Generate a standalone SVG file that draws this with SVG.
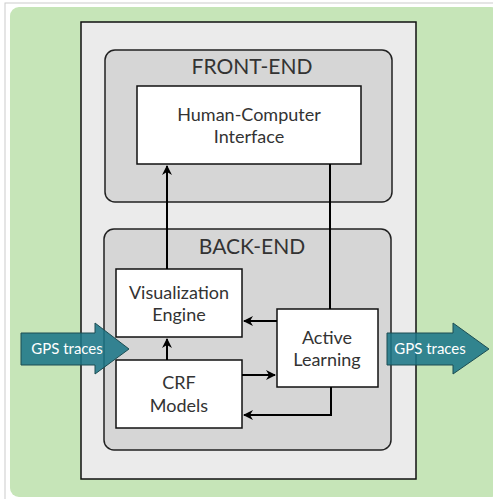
<svg xmlns="http://www.w3.org/2000/svg" width="493" height="499" viewBox="0 0 493 499">
<style>
.lbl{font-family:Lato,"Open Sans","Liberation Sans",sans-serif;fill:#333;text-anchor:middle}
.box{fill:#fff;stroke:#111;stroke-width:1.5}
.grp{fill:#d6d6d6;stroke:#222;stroke-width:1.5}
.con{fill:none;stroke:#000;stroke-width:2}
.gps{fill:#1c7687;fill-opacity:0.88;stroke:#1d4d52;stroke-width:1}
.gpst{font-family:Lato,"Open Sans","Liberation Sans",sans-serif;fill:#fff;font-size:15px;text-anchor:middle}
</style>
<defs>
<marker id="ah" viewBox="0 0 10 10" refX="9" refY="5" markerWidth="5" markerHeight="5" markerUnits="strokeWidth" orient="auto">
<path d="M0,0 L10,5 L0,10 L3,5 z" fill="#000"/>
</marker>
</defs>
<rect x="0" y="0" width="493" height="499" fill="#fff"/>
<rect x="5" y="3" width="495" height="500" fill="none" stroke="#ccc" stroke-width="1"/>
<rect x="10" y="7" width="490" height="490" rx="9" fill="#c6e5b8"/>
<g id="outer"><rect x="81" y="22" width="335" height="457" fill="#ebebeb" stroke="#111" stroke-width="1.5"/></g>
<g id="frontend">
<rect class="grp" x="105" y="50" width="287" height="152" rx="10"/>
<text class="lbl" x="252" y="74" font-size="21">FRONT-END</text>
</g>
<g id="backend">
<rect class="grp" x="104" y="229" width="287" height="221" rx="10"/>
<text class="lbl" x="252" y="254" font-size="21">BACK-END</text>
</g>
<g id="hci">
<rect class="box" x="137" y="86" width="224" height="78"/>
<text class="lbl" x="249" y="121" font-size="18">Human-Computer</text>
<text class="lbl" x="249" y="143" font-size="18">Interface</text>
</g>
<g id="vis">
<rect class="box" x="116" y="269" width="126" height="68"/>
<text class="lbl" x="179" y="299" font-size="18">Visualization</text>
<text class="lbl" x="179" y="321" font-size="18">Engine</text>
</g>
<g id="crf">
<rect class="box" x="116" y="360" width="126" height="68"/>
<text class="lbl" x="179" y="389" font-size="18">CRF</text>
<text class="lbl" x="179" y="412" font-size="18">Models</text>
</g>
<g id="al">
<rect class="box" x="277" y="309" width="101" height="78"/>
<text class="lbl" x="327" y="344" font-size="18">Active</text>
<text class="lbl" x="327" y="366" font-size="18">Learning</text>
</g>
<g id="connectors">
<path class="con" d="M167,269 V166" marker-end="url(#ah)"/>
<path class="con" d="M330,164 V309"/>
<path class="con" d="M277,321 H244" marker-end="url(#ah)"/>
<path class="con" d="M242,375 H275" marker-end="url(#ah)"/>
<path class="con" d="M331,387 V415 H244" marker-end="url(#ah)"/>
<path class="con" d="M167,360 V339" marker-end="url(#ah)"/>
</g>
<g id="gps-in">
<path class="gps" d="M21,333 H95 V323 L129,349 L95,374 V365 H21 z"/>
<text class="gpst" x="67" y="354">GPS traces</text>
</g>
<g id="gps-out">
<path class="gps" d="M387,333 H453 V323 L489,349 L453,374 V365 H387 z"/>
<text class="gpst" x="430" y="354">GPS traces</text>
</g>
</svg>
